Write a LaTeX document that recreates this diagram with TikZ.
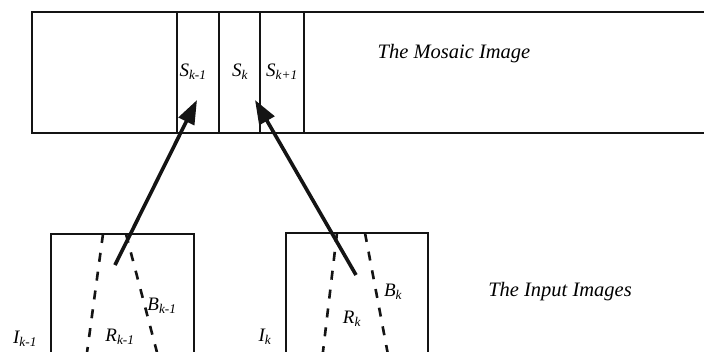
\documentclass[tikz,border=0pt]{standalone}
\usepackage{fontspec}
\setmainfont{Liberation Serif}
\usepackage{tikz}
\usetikzlibrary{arrows.meta}
\definecolor{MosaicInk}{RGB}{20, 20, 20}

\newcommand{\sublbl}[2]{\textit{#1\textsubscript{#2}}}

\tikzset{
  frame/.style={draw=MosaicInk, line width=1.4pt},
  regionline/.style={draw=MosaicInk, line width=2.6pt, dash pattern=on 9pt off 10pt},
  maparrow/.style={draw=MosaicInk, line width=3.6pt, -{Triangle[length=24pt, width=17pt]}},
  caption/.style={font=\fontsize{20.5}{24}\selectfont\itshape, inner sep=0pt},
  lbl/.style={font=\fontsize{19}{22}\selectfont, inner sep=0pt}
}

\begin{document}
\begin{tikzpicture}[x=1pt, y=-1pt]
  \clip (0,0) rectangle (704,351);
  \fill[white] (0,0) rectangle (704,351);

  % the mosaic image and its strips
  \draw[frame] (32,12) rectangle (720,133);
  \foreach \sx in {177,219,260,304}
    \draw[frame] (\sx,12) -- (\sx,133);
  \node[lbl] (skm) at (193,72) {\sublbl{S}{k-1}};
  \node[lbl] (sk)  at (240,72) {\sublbl{S}{k}};
  \node[lbl] (skp) at (282,72) {\sublbl{S}{k+1}};
  \node[caption] (mosaic) at (454,54) {The Mosaic Image};

  % the input images
  \draw[frame] (51,234) rectangle (194,370);
  \draw[frame] (286,233) rectangle (428,370);
  \draw[regionline] (103,234) -- (86,360);
  \draw[regionline] (126,234) -- (159,360);
  \draw[regionline] (337,233) -- (322,360);
  \draw[regionline] (365,233) -- (389,360);
  \node[lbl] (ikm) at (25,339)  {\sublbl{I}{k-1}};
  \node[lbl] (rkm) at (120,337) {\sublbl{R}{k-1}};
  \node[lbl] (bkm) at (162,306) {\sublbl{B}{k-1}};
  \node[lbl] (ik)  at (265,337) {\sublbl{I}{k}};
  \node[lbl] (rk)  at (352,319) {\sublbl{R}{k}};
  \node[lbl] (bk)  at (393,292) {\sublbl{B}{k}};
  \node[caption] (inputs) at (560,292) {The Input Images};

  % mapping of the regions onto the strips
  \coordinate (fromkm) at (115,265);
  \coordinate (tokm) at (197,100);
  \coordinate (fromk) at (356,275);
  \coordinate (tok) at (255,100);
  \draw[maparrow] (fromkm) -- (tokm);
  \draw[maparrow] (fromk) -- (tok);
\end{tikzpicture}
\end{document}
